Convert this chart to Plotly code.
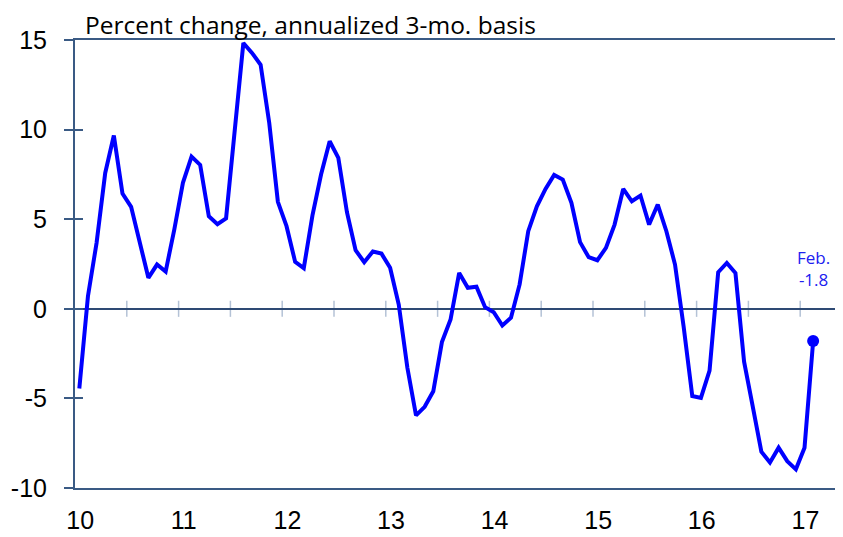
import plotly.graph_objects as go

# ---- data (monthly, Jan 2010 .. Feb 2017) ----
start_year = 2010
values = [
    # 2010
    -4.45, 0.7, 3.68, 7.58, 9.67, 6.43, 5.69, 3.59, 1.73, 2.47, 2.08, 4.42,
    # 2011
    7.03, 8.49, 8.03, 5.16, 4.72, 5.05, 9.95, 14.83, 14.28, 13.62, 10.37, 5.97,
    # 2012
    4.61, 2.62, 2.27, 5.2, 7.49, 9.35, 8.42, 5.39, 3.27, 2.6, 3.2, 3.08,
    # 2013
    2.29, 0.24, -3.29, -5.95, -5.47, -4.6, -1.86, -0.6, 2.0, 1.17, 1.23, 0.09,
    # 2014
    -0.19, -0.93, -0.5, 1.36, 4.33, 5.72, 6.69, 7.47, 7.21, 5.91, 3.72, 2.88,
    # 2015
    2.71, 3.4, 4.7, 6.69, 6.0, 6.32, 4.7, 5.82, 4.33, 2.47, -1.0, -4.87,
    # 2016
    -4.97, -3.45, 2.04, 2.56, 2.0, -2.95, -5.45, -7.97, -8.58, -7.75, -8.5, -8.96,
    # 2017
    -7.75, -1.8,
]
year_ticks = [2010, 2011, 2012, 2013, 2014, 2015, 2016, 2017]
year_labels = ["10", "11", "12", "13", "14", "15", "16", "17"]
y_ticks = [-10, -5, 0, 5, 10, 15]
y_labels = ["-10", "-5", "0", "5", "10", "15"]
title_text = "Percent change, annualized 3-mo. basis"
last_label = "Feb.<br>-1.8"

x = [start_year + (i + 0.5) / 12 for i in range(len(values))]

LINE = "#0000FF"
FRAME = "#3A5A84"
LIGHT = "#B4C2D6"

fig = go.Figure()
fig.add_trace(go.Scatter(
    x=x, y=values, mode="lines",
    line=dict(color=LINE, width=4), hoverinfo="skip", showlegend=False,
))
fig.add_trace(go.Scatter(
    x=[x[-1]], y=[values[-1]], mode="markers",
    marker=dict(color=LINE, size=12), hoverinfo="skip", showlegend=False,
))
# dummy trace for the overlaid axis (inside ticks)
fig.add_trace(go.Scatter(x=[x[0]], y=[values[0]], yaxis="y2", mode="markers",
                         marker=dict(opacity=0), hoverinfo="skip", showlegend=False))

# half-year tick marks crossing the zero line
half_years = [start_year + 0.5 * k for k in range(1, 15)]
shapes = []
for hx in half_years:
    shapes.append(dict(type="line", xref="x", yref="y", x0=hx, x1=hx, y0=-0.45, y1=0.45,
                       line=dict(color=LIGHT, width=1.5), layer="below"))

# page body has an 8px margin, so the figure is offset by (8, 8)
fig.update_layout(
    width=835, height=529,
    margin=dict(l=67, r=5, t=32, b=49),
    paper_bgcolor="white", plot_bgcolor="white",
    shapes=shapes,
    xaxis=dict(
        range=[2010, 2010 + 763 / 103.6],
        tickvals=[yv + 0.05 for yv in year_ticks], ticktext=year_labels,
        ticks="", showgrid=False, zeroline=False, automargin=False,
        showline=True, mirror=True, linecolor=FRAME, linewidth=2,
        tickfont=dict(family="Liberation Sans, Arial", size=25, color="black"),
        ticklabelstandoff=9,
    ),
    yaxis=dict(
        range=[-10, 15], tickvals=y_ticks, ticktext=y_labels, automargin=False,
        ticks="outside", ticklen=9, tickcolor=FRAME, tickwidth=1.5,
        showgrid=False, zeroline=True, zerolinecolor="#2E4A74", zerolinewidth=1.5,
        showline=True, mirror=True, linecolor=FRAME, linewidth=2,
        tickfont=dict(family="Liberation Sans, Arial", size=25, color="black"),
        ticklabelstandoff=12,
    ),
    yaxis2=dict(
        range=[-10, 15], overlaying="y", side="left", tickvals=y_ticks, automargin=False,
        ticks="inside", ticklen=8, tickcolor=FRAME, tickwidth=1.5,
        showticklabels=False, showgrid=False, zeroline=False, showline=False,
    ),
    annotations=[
        dict(text=title_text, xref="paper", yref="paper", x=0.011, y=1.0335,
             xanchor="left", yanchor="middle", showarrow=False,
             font=dict(family="Open Sans", size=24.5, color="black")),
        dict(text=last_label, xref="x", yref="y", x=x[-1], y=2.25,
             xanchor="center", yanchor="middle", showarrow=False,
             font=dict(family="Open Sans", size=17, color="#2020F0")),
    ],
)

fig.write_html("out.html")
